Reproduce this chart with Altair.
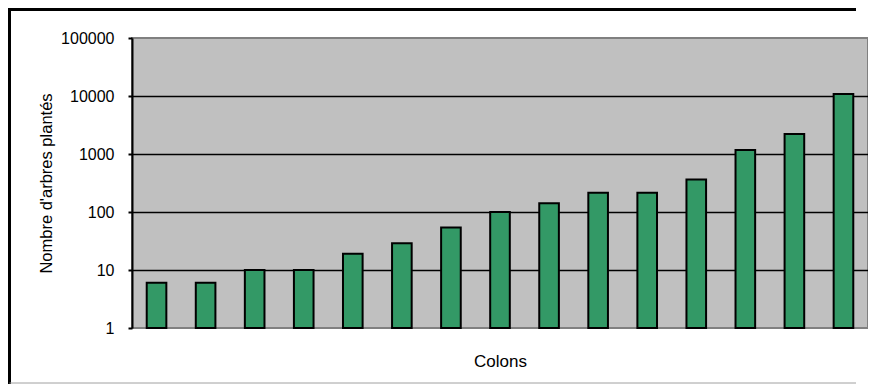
import altair as alt
import pandas as pd

colons = ["C01", "C02", "C03", "C04", "C05", "C06", "C07", "C08",
          "C09", "C10", "C11", "C12", "C13", "C14", "C15"]
arbres = [6, 6, 10, 10, 19, 29, 54, 100, 142, 214, 214, 362, 1175, 2220, 10800]
y_ticks = [1, 10, 100, 1000, 10000, 100000]

df = pd.DataFrame({"colon": colons, "arbres": arbres})

W, H = 736, 290
PL = 124
FONT = "Liberation Sans"

bars = alt.Chart(df).mark_bar(
    color="#339966", stroke="black", strokeWidth=2
).encode(
    x=alt.X("colon:N", sort=colons,
            scale=alt.Scale(paddingInner=0.6, paddingOuter=0.3),
            axis=alt.Axis(title="Colons", labels=False, ticks=False, domain=False,
                          titleFont=FONT, titleFontSize=17, titleFontWeight="normal",
                          titleColor="black", titleY=33, titleBaseline="middle")),
    y=alt.Y("arbres:Q",
            scale=alt.Scale(type="log", domain=[1, 100000], nice=False),
            axis=alt.Axis(title="Nombre d'arbres plantés", values=y_ticks, format="d",
                          labelFont=FONT, labelFontSize=16, labelColor="black",
                          labelPadding=14, tickSize=4, tickColor="black", tickWidth=2,
                          domainColor="black", domainWidth=2,
                          grid=True,
                          gridColor={"condition": {"test": "datum.value == 1 || datum.value == 100000",
                                                   "value": "transparent"},
                                     "value": "black"},
                          gridWidth=1.5,
                          titleFont=FONT, titleFontSize=16.5, titleFontWeight="normal",
                          titleColor="black", titleX=-86, titleY=H / 2,
                          titleBaseline="middle", titleAngle=-90)),
    y2=alt.datum(1),
)

one = alt.Data(values=[{}])

frame_top = alt.Chart(one).mark_rule(color="black", strokeWidth=3).encode(
    x=alt.value(-PL + 0.5), x2=alt.value(W - 12), y=alt.value(-28.5)
)
frame_left = alt.Chart(one).mark_rule(color="black", strokeWidth=3).encode(
    x=alt.value(-PL + 1.5), y=alt.value(-30), y2=alt.value(H + 56)
)
bottom_line = alt.Chart(one).mark_rule(color="#a0a0a0", strokeWidth=1).encode(
    x=alt.value(-PL + 1.5), x2=alt.value(W - 12), y=alt.value(H + 55)
)

chart = alt.layer(bars, frame_top, frame_left, bottom_line).properties(
    width=W, height=H,
    autosize=alt.AutoSizeParams(type="none"),
    padding={"left": PL, "top": 30, "right": 0, "bottom": 56},
).configure(
    background="white"
).configure_view(
    fill="#c0c0c0", stroke="#808080", strokeWidth=2
)

chart.save("out.html", embed_options={"renderer": "svg", "actions": False})
